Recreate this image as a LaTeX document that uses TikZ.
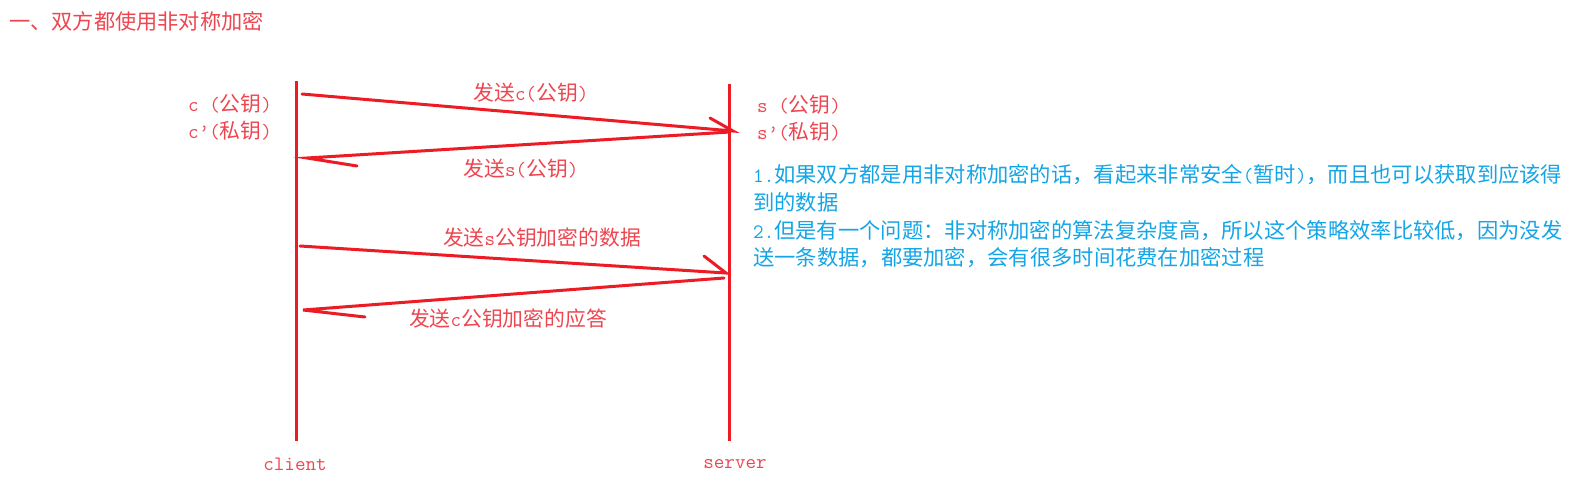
\documentclass[tikz,border=0pt]{standalone}
\usepackage{fontspec}
\setmainfont{Noto Sans CJK SC}
\newcommand\lat[1]{{\ttfamily\fontsize{20.5}{27}\selectfont #1}}
\definecolor{lred}{RGB}{237,28,36}
\definecolor{tred}{RGB}{238,70,80}
\definecolor{tblue}{RGB}{20,165,230}
\begin{document}
\begin{tikzpicture}[x=1pt,y=-1pt,
  lifeline/.style={draw=lred,line width=3pt},
  msg/.style={draw=lred,line width=3pt,line cap=round},
  redtxt/.style={text=tred,inner sep=0pt,font=\fontsize{20.8}{27}\selectfont},
  bluetxt/.style={text=tblue,inner sep=0pt,anchor=base west,font=\fontsize{21.3}{27.7}\selectfont}]
\useasboundingbox[fill=white] (0,0) rectangle (1589,488);

% title
\node[redtxt,anchor=base west,font=\fontsize{21.2}{27}\selectfont] (title) at (9,29) {一、双方都使用非对称加密};

% lifelines
\coordinate (ctop) at (296,81);
\coordinate (cbot) at (296,441);
\coordinate (stop) at (729,84);
\coordinate (sbot) at (729,441);
\draw[lifeline] (ctop) -- (cbot);
\draw[lifeline] (stop) -- (sbot);

% message end points
\coordinate (a1s) at (302,94);
\coordinate (a1e) at (733,131);
\coordinate (a1b) at (710,118);
\coordinate (a2s) at (730,132);
\coordinate (a2e) at (307,158);
\coordinate (a2b) at (357,166);
\coordinate (a3s) at (300,246);
\coordinate (a3e) at (726,273);
\coordinate (a3b) at (704,256);
\coordinate (a4s) at (724,278);
\coordinate (a4e) at (303,310);
\coordinate (a4b) at (365,317);

\draw[msg] (a1s) -- (a1e) -- (a1b);
\draw[msg] (a2s) -- (a2e) -- (a2b);
\draw[msg] (a3s) -- (a3e) -- (a3b);
\draw[msg] (a4s) -- (a4e) -- (a4b);

% message labels
\node[redtxt,anchor=base] (m1) at (531,100) {发送\lat{c(}公钥\lat{)}};
\node[redtxt,anchor=base] (m2) at (521,176) {发送\lat{s(}公钥\lat{)}};
\node[redtxt,anchor=base] (m3) at (542,245) {发送\lat{s}公钥加密的数据};
\node[redtxt,anchor=base] (m4) at (508,326) {发送\lat{c}公钥加密的应答};

% keys
\node[redtxt,anchor=base west] (cpub) at (188,111) {\lat{c (}公钥\lat{)}};
\node[redtxt,anchor=base west] (cpri) at (188,138) {\lat{c’(}私钥\lat{)}};
\node[redtxt,anchor=base west] (spub) at (757,112) {\lat{s (}公钥\lat{)}};
\node[redtxt,anchor=base west] (spri) at (757,139) {\lat{s’(}私钥\lat{)}};

% notes
\node[bluetxt] (note1) at (753,182) {\lat{1.}如果双方都是用非对称加密的话，看起来非常安全\lat{(}暂时\lat{)}，而且也可以获取到应该得};
\node[bluetxt] (note2) at (753,210) {到的数据};
\node[bluetxt] (note3) at (753,238) {\lat{2.}但是有一个问题：非对称加密的算法复杂度高，所以这个策略效率比较低，因为没发};
\node[bluetxt] (note4) at (753,265) {送一条数据，都要加密，会有很多时间花费在加密过程};

% actors
\node[redtxt,anchor=base] (client) at (295,470) {\lat{client}};
\node[redtxt,anchor=base] (server) at (735,468) {\lat{server}};
\end{tikzpicture}
\end{document}
